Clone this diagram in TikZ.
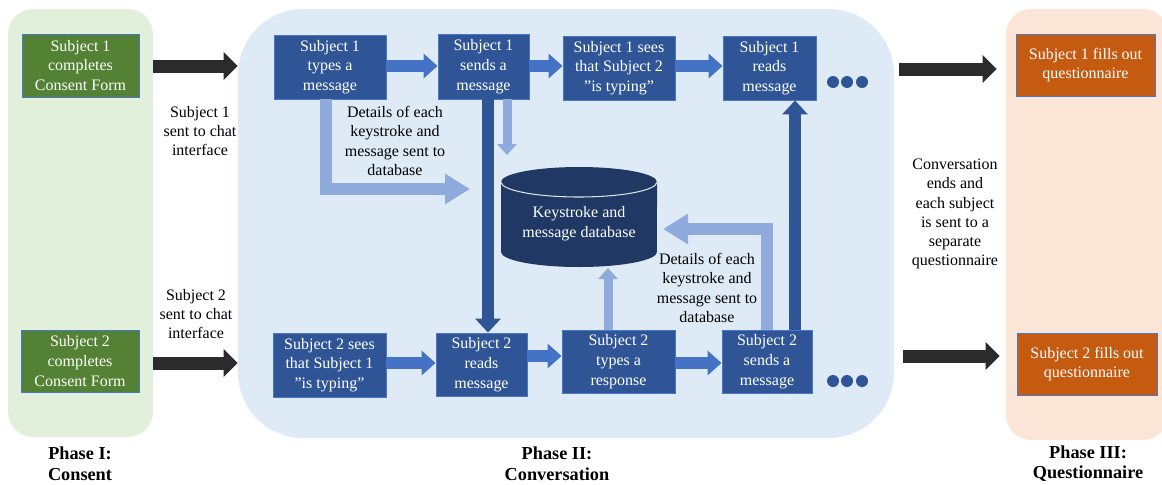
\documentclass[tikz,border=0pt]{standalone}
\usepackage{fontspec}
\setmainfont{Liberation Serif}
\usetikzlibrary{arrows.meta}
\definecolor{pgreen}{HTML}{E2EFDA}
\definecolor{pblue}{HTML}{DEEBF7}
\definecolor{ppeach}{HTML}{FBE5D6}
\definecolor{bgreen}{HTML}{548235}
\definecolor{bblue}{HTML}{2F5597}
\definecolor{borange}{HTML}{C55A11}
\definecolor{ablue}{HTML}{4472C4}
\definecolor{alight}{HTML}{8FAADC}
\definecolor{dbnavy}{HTML}{203864}
\definecolor{adark}{HTML}{2B2B2B}
\definecolor{bedge}{HTML}{4A78C8}
\tikzset{
  txt/.style={font=\fontsize{9.1}{10.9}\selectfont, align=center, inner sep=0pt},
  phase/.style={font=\fontsize{10.4}{11.8}\selectfont\bfseries, align=center, inner sep=0pt},
  panel/.style={rectangle, inner sep=0pt},
  bx/.style={rectangle, draw=bedge, line width=0.5pt, text=white, align=center, inner sep=0pt,
    font=\fontsize{9.1}{11.2}\selectfont},
  gbox/.style={bx, fill=bgreen},
  bbox/.style={bx, fill=bblue},
  obox/.style={bx, fill=borange},
  blk/.style={line width=0.26cm, draw=adark, -{Triangle[width=0.54cm,length=0.28cm]}},
  barr/.style={line width=0.24cm, draw=ablue, -{Triangle[width=0.48cm,length=0.28cm]}},
  darr/.style={line width=0.23cm, draw=bblue, -{Triangle[width=0.5cm,length=0.28cm]}},
  larrL/.style={line width=0.24cm, draw=alight, -{Triangle[width=0.58cm,length=0.5cm]}},
  larrS/.style={line width=0.18cm, draw=alight, -{Triangle[width=0.38cm,length=0.22cm]}},
}
\begin{document}
\begin{tikzpicture}[x=0.02cm, y=-0.02cm]
\useasboundingbox (0,0) rectangle (1162,484);
% panels
\node[panel, fill=pgreen, rounded corners=0.5cm, minimum width=2.90cm, minimum height=8.56cm] (p1) at (80.5,223) {};
\node[panel, fill=pblue, rounded corners=1.3cm, minimum width=13.12cm, minimum height=8.58cm] (p2) at (566,223.5) {};
\node[panel, fill=ppeach, rounded corners=0.5cm, minimum width=3.24cm, minimum height=8.62cm] (p3) at (1087,224.5) {};
% boxes
\node[gbox, minimum width=2.34cm, minimum height=1.26cm] (c1) at (80.5,65.5) {Subject 1\\completes\\Consent Form};
\node[gbox, minimum width=2.36cm, minimum height=1.24cm] (c2) at (80,361) {Subject 2\\completes\\Consent Form};
\node[bbox, minimum width=2.24cm, minimum height=1.28cm] (t1) at (330,67) {Subject 1\\types a\\message};
\node[bbox, minimum width=1.82cm, minimum height=1.30cm] (s1) at (483.5,66.5) {Subject 1\\sends a\\message};
\node[bbox, minimum width=2.24cm, minimum height=1.28cm] (e1) at (619,68) {Subject 1 sees\\that Subject 2\\”is typing”};
\node[bbox, minimum width=1.86cm, minimum height=1.28cm] (r1) at (769.5,68) {Subject 1\\reads\\message};
\node[bbox, minimum width=2.26cm, minimum height=1.28cm] (e2) at (329.5,365) {Subject 2 sees\\that Subject 1\\”is typing”};
\node[bbox, minimum width=1.82cm, minimum height=1.26cm] (r2) at (481.5,364.5) {Subject 2\\reads\\message};
\node[bbox, minimum width=2.26cm, minimum height=1.26cm] (t2) at (618.5,361.5) {Subject 2\\types a\\response};
\node[bbox, minimum width=1.80cm, minimum height=1.26cm] (s2) at (767,361.5) {Subject 2\\sends a\\message};
\node[obox, minimum width=2.78cm, minimum height=1.24cm] (q1) at (1085.5,65) {Subject 1 fills out\\questionnaire};
\node[obox, minimum width=2.80cm, minimum height=1.24cm] (q2) at (1087,364) {Subject 2 fills out\\questionnaire};
% database
\fill[dbnavy] (501,182) -- (501,252) arc[start angle=180, end angle=360, x radius=1.56cm, y radius=0.3cm]
  -- (657,182) arc[start angle=0, end angle=180, x radius=1.56cm, y radius=0.3cm] -- cycle;
\draw[white!85!dbnavy, line width=0.6pt] (501,182) arc[start angle=180, end angle=360, x radius=1.56cm, y radius=0.3cm];
\node[txt, text=white, font=\fontsize{9.1}{11.2}\selectfont] (db) at (579,224) {Keystroke and\\message database};
% helper coordinates
\coordinate (yA) at (0,66);
\coordinate (yB) at (0,363);
\coordinate (yC) at (0,356);
\coordinate (yR1) at (0,69);
\coordinate (yR2) at (0,356);
\coordinate (xL1) at (326,0);
\coordinate (tipL1) at (470,189);
\coordinate (xdn) at (488,0);
\coordinate (xls) at (507,0);
\coordinate (tipLs) at (507,155);
\coordinate (xup) at (608,0);
\coordinate (tipUp) at (608,268);
\coordinate (xL2) at (767,0);
\coordinate (tipL2) at (663,229);
\coordinate (xdu) at (795,0);
% black arrows
\draw[blk] (p1.east |- yA) -- (p2.west |- yA);
\draw[blk] (p1.east |- yB) -- (p2.west |- yB);
\draw[blk, shorten <=0.1cm, shorten >=0.18cm] (p2.east |- yR1) -- (p3.west |- yR1);
\draw[blk, shorten <=0.18cm, shorten >=0.12cm] (p2.east |- yR2) -- (p3.west |- yR2);
% blue arrows
\draw[barr] (t1.east |- yA) -- (s1.west |- yA);
\draw[barr] (s1.east |- yA) -- (e1.west |- yA);
\draw[barr] (e1.east |- yA) -- (r1.west |- yA);
\draw[barr] (e2.east |- yB) -- (r2.west |- yB);
\draw[barr] (r2.east |- yC) -- (t2.west |- yC);
\draw[barr] (t2.east |- yB) -- (s2.west |- yB);
% light arrows
\draw[larrL] (t1.south -| xL1) |- (tipL1);
\draw[larrS] (s1.south -| xls) -- (tipLs);
\draw[larrS] (t2.north -| xup) -- (tipUp);
\draw[larrL] (s2.north -| xL2) |- (tipL2);
% dark vertical arrows
\draw[darr] (s1.south -| xdn) -- (r2.north -| xdn);
\draw[darr] (s2.north -| xdu) -- (r1.south -| xdu);
% dots
\foreach \x in {833,847,862} {
  \fill[bblue] (\x,82) circle[radius=0.12cm];
  \fill[bblue] (\x,381) circle[radius=0.12cm];
}
% labels
\node[txt] (l1) at (200,131) {Subject 1\\sent to chat\\interface};
\node[txt] (l2) at (196,314) {Subject 2\\sent to chat\\interface};
\node[txt] (d1) at (395,141) {Details of each\\keystroke and\\message sent to\\database};
\node[txt] (d2) at (707,288) {Details of each\\keystroke and\\message sent to\\database};
\node[txt] (ce) at (955,214) {Conversation\\ends and\\each subject\\is sent to a\\separate\\questionnaire};
\node[phase] (ph1) at (80,463.5) {Phase I:\\Consent};
\node[phase] (ph2) at (557,463.5) {Phase II:\\Conversation};
\node[phase] (ph3) at (1088,463.5) {Phase III:\\Questionnaire};
\end{tikzpicture}
\end{document}
